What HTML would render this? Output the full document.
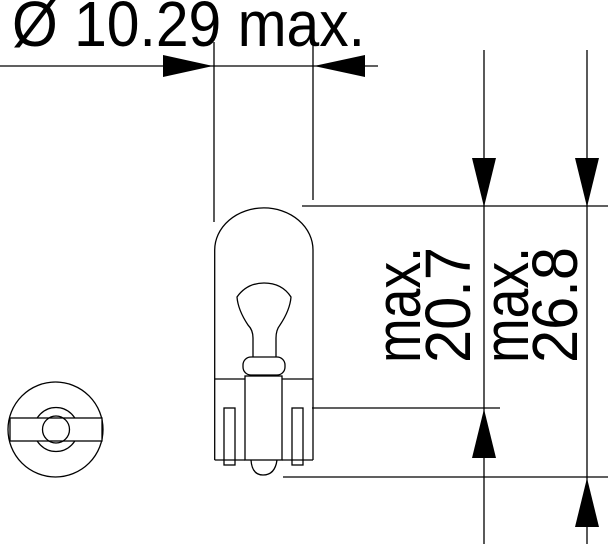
<!DOCTYPE html>
<html><head><style>html,body{margin:0;padding:0;background:#fff;}svg{display:block}</style></head>
<body>
<svg width="608" height="544" viewBox="0 0 608 544" xmlns="http://www.w3.org/2000/svg">
<g fill="none" stroke="#000" stroke-width="1.3">
<line x1="0" y1="66" x2="378" y2="66"/>
<line x1="214" y1="42" x2="214" y2="222"/>
<line x1="313" y1="42" x2="313" y2="200"/>
<line x1="484" y1="50" x2="484" y2="544"/>
<line x1="587" y1="50" x2="587" y2="544"/>
<line x1="302" y1="206" x2="608" y2="206"/>
<line x1="312" y1="408" x2="500" y2="408"/>
<line x1="283" y1="477" x2="608" y2="477"/>
<path d="M214.7 460 V250 A49 42 0 0 1 313 250 V460"/>
<line x1="214.7" y1="379" x2="245" y2="379"/>
<line x1="282" y1="379" x2="313" y2="379"/>
<line x1="214.7" y1="460" x2="245" y2="460"/>
<line x1="282" y1="460" x2="313" y2="460"/>
<rect x="245" y="376" width="37" height="84"/>
<rect x="224" y="408" width="11" height="57"/>
<rect x="292" y="408" width="11" height="57"/>
<path d="M251 460 Q252 475 263 475 Q275 475 277 460"/>
<path d="M253 345 V338 Q253 330 248 325 Q238 310 237 297 Q247 283 264 283 Q282 283 291 297 Q290 310 280 325 Q276 330 276 338 V357"/>
<line x1="253" y1="345" x2="253" y2="357"/>
<rect x="243" y="357" width="42" height="18" rx="8"/>
<circle cx="55.5" cy="429.5" r="47.5"/>
<circle cx="56" cy="429.5" r="22"/>
<rect x="10" y="418" width="92" height="23" fill="#fff"/>
<circle cx="56" cy="429.5" r="13.5"/>
</g>
<g fill="#000">
<polygon points="163,55 213,66 163,77"/>
<polygon points="365,55 314,66 365,77"/>
<polygon points="472,158 496,158 484,207"/>
<polygon points="575,158 599,158 587,207"/>
<polygon points="472,458 496,458 484,409"/>
<polygon points="575,527 599,527 587,478"/>
</g>
<g font-family="Liberation Sans, sans-serif" fill="#000">
<text x="12" y="46" font-size="64" textLength="353" lengthAdjust="spacingAndGlyphs">Ø 10.29 max.</text>
<text transform="translate(420,363) rotate(-90)" font-size="64" textLength="116" lengthAdjust="spacingAndGlyphs">max.</text>
<text transform="translate(470,363) rotate(-90)" font-size="64" textLength="116" lengthAdjust="spacingAndGlyphs">20.7</text>
<text transform="translate(528,363) rotate(-90)" font-size="64" textLength="116" lengthAdjust="spacingAndGlyphs">max.</text>
<text transform="translate(577,363) rotate(-90)" font-size="64" textLength="116" lengthAdjust="spacingAndGlyphs">26.8</text>
</g>
</svg>
</body></html>
